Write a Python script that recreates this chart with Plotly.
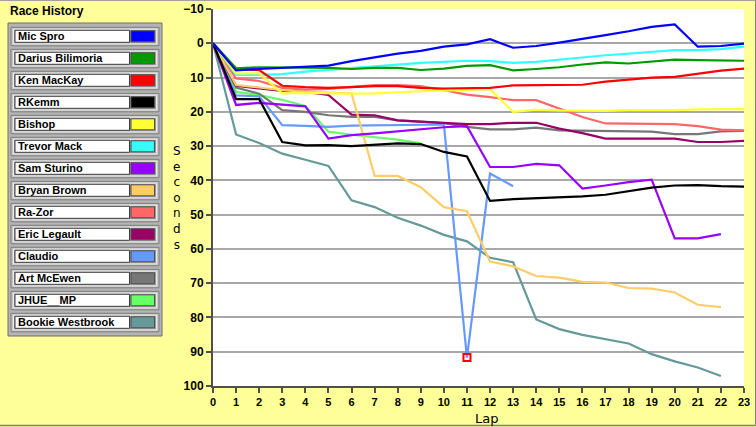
import plotly.graph_objects as go

# --- dados: segundos atras do lider, por volta ---
laps = list(range(0, 24))

mic_spro = [0, 7.9, 7.5, 7.2, 6.9, 6.5, 5.2, 4.1, 3.0, 2.2, 1.0, 0.3, -1.2, 1.3, 0.8, -0.2, -1.2, -2.4, -3.5, -4.8, -5.5, 1.0, 0.8, 0.1]
darius = [0, 7.3, 7.0, 7.0, 7.0, 7.2, 7.5, 7.2, 7.2, 7.8, 7.4, 6.6, 6.4, 7.9, 7.5, 7.0, 6.2, 5.6, 5.9, 5.3, 4.8, 4.9, 5.1, 5.1]
ken = [0, 7.6, 7.8, 12.4, 12.8, 13.0, 12.8, 12.5, 12.5, 13.0, 13.2, 13.0, 13.0, 12.3, 12.2, 12.2, 12.1, 11.2, 10.7, 10.0, 9.8, 8.8, 8.0, 7.4]
rkemm = [0, 16.3, 16.3, 28.8, 29.8, 29.7, 30.0, 29.6, 29.2, 29.4, 31.7, 33.0, 46.0, 45.5, 45.3, 44.9, 44.7, 44.2, 43.2, 42.1, 41.5, 41.4, 41.7, 41.8]
bishop = [0, 8.8, 8.8, 14.6, 14.5, 14.7, 14.7, 14.6, 14.2, 14.0, 13.8, 13.5, 13.4, 20.0, 19.4, 19.6, 19.7, 19.7, 19.5, 19.6, 19.5, 19.3, 19.3, 19.2]
trevor = [0, 9.2, 9.2, 9.0, 8.3, 7.8, 7.2, 6.6, 6.1, 5.7, 5.4, 5.1, 5.2, 5.7, 5.4, 4.7, 4.1, 3.5, 3.0, 2.5, 2.0, 2.0, 1.7, 1.0]
sam = [0, 18.0, 17.4, 18.0, 18.4, 27.8, 26.8, 26.3, 25.7, 25.0, 24.5, 24.2, 36.1, 36.1, 35.2, 35.6, 42.4, 41.5, 40.5, 39.8, 56.9, 56.9, 55.7, None]
bryan = [0, 12.2, 12.9, 13.7, 14.2, 14.4, 14.6, 38.7, 38.7, 42.0, 47.8, 49.0, 63.7, 65.1, 67.9, 68.4, 69.6, 69.8, 71.4, 71.6, 72.7, 76.3, 77.0, None]
razor = [0, 10.3, 11.0, 13.0, 13.5, 13.3, 12.7, 12.2, 12.2, 12.5, 13.7, 15.0, 15.7, 16.6, 16.6, 19.0, 21.5, 23.4, 23.4, 23.4, 23.6, 24.2, 25.2, 25.4]
eric = [0, 12.4, 13.2, 13.9, 14.2, 15.1, 20.8, 21.0, 22.5, 22.8, 23.2, 23.6, 23.6, 23.2, 23.2, 24.9, 26.2, 27.8, 27.8, 27.8, 27.8, 28.8, 28.8, 28.5]
claudio = [0, 15.2, 15.5, 23.9, 24.1, 24.4, 24.0, 23.9, 23.9, 23.8, 23.7, 91.7, 38.0, 41.7] + [None] * 10
art = [0, 12.9, 14.7, 19.5, 20.0, 21.0, 21.5, 21.5, 22.5, 22.8, 23.3, 24.4, 25.1, 25.1, 24.6, 25.4, 25.5, 25.7, 25.7, 25.8, 26.5, 26.5, 25.7, 25.6]
jhue = [0, 14.2, 15.1, 16.5, 18.3, 25.8, 26.7, 27.3, 28.1, 29.2] + [None] * 14
bookie = [0, 26.6, 29.1, 32.2, 34.0, 35.8, 45.8, 47.8, 50.9, 53.2, 55.9, 57.8, 62.6, 63.9, 80.6, 83.4, 85.1, 86.4, 87.6, 90.7, 92.8, 94.6, 97.1, None]

names = ["Mic Spro", "Darius Bilimoria", "Ken MacKay", "RKemm", "Bishop", "Trevor Mack",
         "Sam Sturino", "Bryan Brown", "Ra-Zor", "Eric Legault", "Claudio", "Art McEwen",
         "JHUE__MP", "Bookie Westbrook"]
series = [mic_spro, darius, ken, rkemm, bishop, trevor, sam, bryan, razor, eric, claudio, art, jhue, bookie]
colors = ["#0000FF", "#009900", "#FF0000", "#000000", "#FFFF33", "#33FFFF", "#9900FF",
          "#FFCC66", "#FF6666", "#990066", "#6699FF", "#777777", "#66FF66", "#669999"]

# ponto marcado (cursor)
cursor_lap = 11
cursor_val = claudio[11]

y_ticks = list(range(-10, 101, 10))

# --- layout em pixels ---
W, H = 756, 427
ML, MR, MT, MB = 213, 12, 9, 41
PW, PH = W - ML - MR, H - MT - MB


def px(x):
    return (x - ML) / PW


def py(y):
    return (H - MB - y) / PH


fig = go.Figure()

# primeiro da lista fica por cima
for name, vals, col in reversed(list(zip(names, series, colors))):
    fig.add_trace(go.Scatter(x=laps, y=vals, mode='lines', name=name,
                             line=dict(color=col, width=2.2), connectgaps=False))

fig.add_trace(go.Scatter(x=[cursor_lap], y=[cursor_val], mode='markers',
                         marker=dict(symbol='square-open', size=7, color='#FF0000',
                                     line=dict(width=2, color='#FF0000'))))

shapes = []
annotations = []

# painel da legenda
shapes.append(dict(type='rect', xref='paper', yref='paper',
                   x0=px(8), x1=px(162), y0=py(336), y1=py(23),
                   fillcolor='#B4B4B4', line=dict(color='#6E6E6E', width=1), layer='above'))
for i, (name, col) in enumerate(zip(names, colors)):
    cy = 36.3 + 22 * i
    shapes.append(dict(type='rect', xref='paper', yref='paper',
                       x0=px(11), x1=px(159), y0=py(cy + 9.5), y1=py(cy - 9),
                       fillcolor='#C8C8C8', line=dict(color='#7A7A7A', width=1), layer='above'))
    shapes.append(dict(type='rect', xref='paper', yref='paper',
                       x0=px(13.5), x1=px(156.5), y0=py(cy + 7.5), y1=py(cy - 7),
                       fillcolor='#9A9A9A', line=dict(color='#E8E8E8', width=1), layer='above'))
    shapes.append(dict(type='rect', xref='paper', yref='paper',
                       x0=px(15), x1=px(129.5), y0=py(cy + 6), y1=py(cy - 6),
                       fillcolor='#FFFFFF', line=dict(color='#404040', width=1), layer='above'))
    shapes.append(dict(type='rect', xref='paper', yref='paper',
                       x0=px(131), x1=px(154.5), y0=py(cy + 5.5), y1=py(cy - 5.5),
                       fillcolor=col, line=dict(color='#505050', width=1), layer='above'))
    annotations.append(dict(text=name, xref='paper', yref='paper', x=px(16), y=py(cy),
                            xanchor='left', yanchor='middle', showarrow=False,
                            font=dict(family='Liberation Sans, Arial', size=11, color='#000000', weight='bold')))

# moldura da figura
shapes.append(dict(type='line', xref='paper', yref='paper', x0=px(0), x1=px(756),
                   y0=py(425.5), y1=py(425.5), line=dict(color='#808080', width=1.5)))
shapes.append(dict(type='line', xref='paper', yref='paper', x0=px(755.5), x1=px(755.5),
                   y0=py(0), y1=py(426), line=dict(color='#808080', width=1)))
shapes.append(dict(type='line', xref='paper', yref='paper', x0=px(0), x1=px(756),
                   y0=py(0.5), y1=py(0.5), line=dict(color='#A0A0A0', width=1)))

annotations.append(dict(text='Race History', xref='paper', yref='paper', x=px(8), y=py(11.5),
                        xanchor='left', yanchor='middle', showarrow=False,
                        font=dict(family='Liberation Sans, Arial', size=12, color='#000000', weight='bold')))
annotations.append(dict(text='<br>'.join('Seconds'), xref='paper', yref='paper', x=px(177), y=py(198),
                        xanchor='center', yanchor='middle', showarrow=False, align='center',
                        font=dict(family='DejaVu Sans', size=12, color='#000000')))
annotations.append(dict(text='Lap', xref='paper', yref='paper', x=px(487), y=py(418),
                        xanchor='center', yanchor='middle', showarrow=False,
                        font=dict(family='DejaVu Sans', size=13, color='#000000')))

fig.update_layout(
    width=W, height=H,
    margin=dict(l=ML, r=MR, t=MT, b=MB),
    paper_bgcolor='#FFFF99',
    plot_bgcolor='#FFFFFF',
    showlegend=False,
    shapes=shapes,
    annotations=annotations,
    xaxis=dict(range=[0, 23], tickmode='linear', tick0=0, dtick=1, showgrid=False, zeroline=False,
               automargin=False,
               showline=True, linecolor='#505050', linewidth=2, ticks='outside', ticklen=5,
               tickcolor='#505050', tickwidth=1.5,
               tickfont=dict(family='Liberation Sans, Arial', size=11, color='#000000', weight='bold')),
    yaxis=dict(range=[100, -10], tickvals=y_ticks, showgrid=True, gridcolor='#A8A8A8', gridwidth=1.5,
               automargin=False,
               zeroline=False, showline=True, linecolor='#505050', linewidth=2, ticks='outside',
               ticklen=5, tickcolor='#505050', tickwidth=1.5,
               tickfont=dict(family='Liberation Sans, Arial', size=12, color='#000000', weight='bold')),
)

# tira a margem padrao do body para a figura encostar no canto
fig.write_html("out.html", config={'displayModeBar': False},
               post_script="document.body.style.margin='0px';")
